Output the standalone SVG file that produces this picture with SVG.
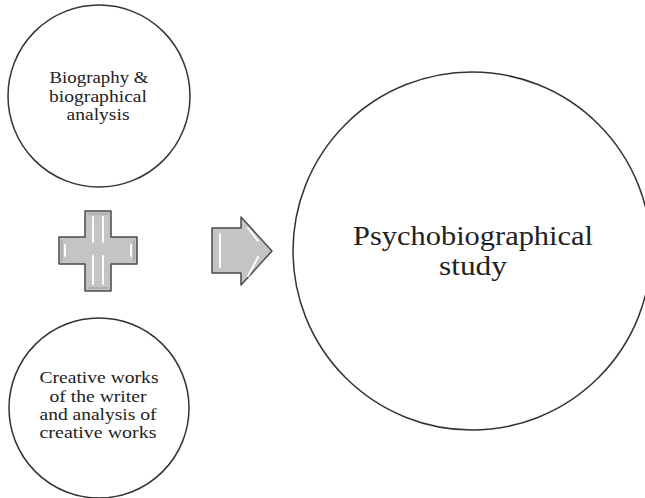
<svg xmlns="http://www.w3.org/2000/svg" width="645" height="498" viewBox="0 0 645 498">
  <style>
    .node { fill: #ffffff; stroke: #333333; stroke-width: 1.5; }
    .label { font-family: "Liberation Serif", "DejaVu Serif", serif; fill: #222222; text-anchor: middle; }
    .small { font-size: 17px; }
    .big { font-size: 28px; }
    .sym { fill: #c4c4c4; stroke: #4a4a4a; stroke-width: 1.5; stroke-linejoin: round; }
    .hl { fill: none; stroke: #ffffff; stroke-width: 2; stroke-linecap: round; opacity: 0.95; }
    .sh { fill: none; stroke: #9a9a9a; stroke-width: 1; stroke-linecap: round; }
  </style>
  <rect width="645" height="498" fill="#ffffff"/>

  <g id="biography">
    <circle class="node" cx="99" cy="96" r="91"/>
    <text class="label small" x="99" y="83" textLength="99" lengthAdjust="spacingAndGlyphs">Biography &amp;</text>
    <text class="label small" x="98" y="102" textLength="98" lengthAdjust="spacingAndGlyphs">biographical</text>
    <text class="label small" x="98" y="120" textLength="63" lengthAdjust="spacingAndGlyphs">analysis</text>
  </g>

  <g id="creative-works">
    <circle class="node" cx="99" cy="408" r="90"/>
    <text class="label small" x="99" y="383" textLength="119" lengthAdjust="spacingAndGlyphs">Creative works</text>
    <text class="label small" x="98" y="402" textLength="97" lengthAdjust="spacingAndGlyphs">of the writer</text>
    <text class="label small" x="98" y="420" textLength="117" lengthAdjust="spacingAndGlyphs">and analysis of</text>
    <text class="label small" x="98" y="438" textLength="117" lengthAdjust="spacingAndGlyphs">creative works</text>
  </g>

  <g id="study">
    <circle class="node" cx="472" cy="251" r="179"/>
    <text class="label big" x="473" y="245" textLength="240" lengthAdjust="spacingAndGlyphs">Psychobiographical</text>
    <text class="label big" x="473" y="275" textLength="68" lengthAdjust="spacingAndGlyphs">study</text>
  </g>

  <g id="connectors">
    <!-- plus sign -->
    <g id="plus">
      <path class="sym" d="M85,211 H111 V237 H137 V264 H111 V291 H85 V264 H59 V237 H85 Z"/>
      <path class="sh" d="M88,214 H108 M88,288 H108 M62,240 V261 M134,240 V261"/>
      <path class="hl" d="M93,217 V242 M103,217 V242 M93,256 V284 M103,256 V284"/>
      <path class="hl" d="M65,245 V256 M131,245 V256"/>
    </g>
    <!-- arrow -->
    <g id="arrow">
      <path class="sym" d="M212,228 H241 V217 L272,251 L241,285 V273 H212 Z"/>
      <path class="hl" d="M220,234 V267 M248,228 L258,241 M258,257 L248,276"/>
    </g>
  </g>
</svg>
